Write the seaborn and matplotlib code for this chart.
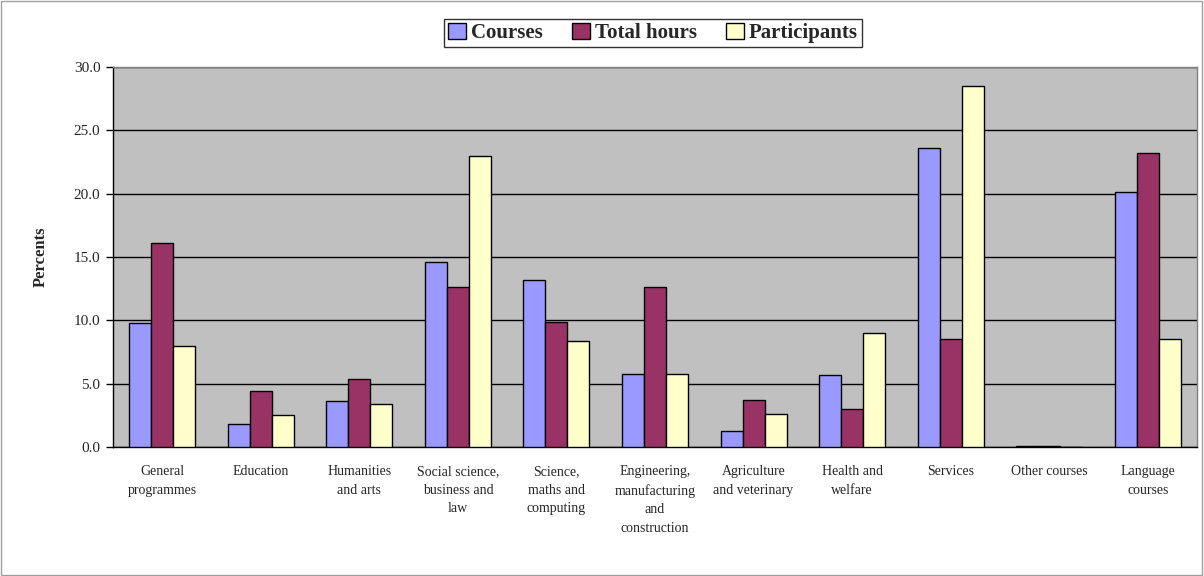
import matplotlib
matplotlib.use("Agg")
import matplotlib.pyplot as plt
import seaborn as sns
import pandas as pd
import numpy as np
from matplotlib.patches import Rectangle

categories = ["General\nprogrammes", "Education", "Humanities\nand arts",
              "Social science,\nbusiness and\nlaw", "Science,\nmaths and\ncomputing",
              "Engineering,\nmanufacturing\nand\nconstruction", "Agriculture\nand veterinary",
              "Health and\nwelfare", "Services", "Other courses", "Language\ncourses"]
courses = [9.8, 1.8, 3.6, 14.6, 13.2, 5.8, 1.3, 5.7, 23.6, 0.1, 20.1]
total_hours = [16.1, 4.4, 5.4, 12.6, 9.9, 12.6, 3.7, 3.0, 8.5, 0.1, 23.2]
participants = [8.0, 2.5, 3.4, 23.0, 8.4, 5.8, 2.6, 9.0, 28.5, 0.0, 8.5]
series = ["Courses", "Total hours", "Participants"]
colors = ["#9999FF", "#993366", "#FFFFCC"]
yticks = [0, 5, 10, 15, 20, 25, 30]

df = pd.DataFrame({
    "cat": categories * 3,
    "series": [series[0]] * 11 + [series[1]] * 11 + [series[2]] * 11,
    "value": courses + total_hours + participants,
})

sns.set_style("white")
plt.rcParams["font.family"] = ["Liberation Serif", "DejaVu Serif"]

fig = plt.figure(figsize=(12.04, 5.76), dpi=100)
ax = fig.add_axes([113 / 1204, 1 - 447 / 576, (1197 - 113) / 1204, (447 - 67) / 576])
ax.set_facecolor("#C0C0C0")

sns.barplot(data=df, x="cat", y="value", hue="series", palette=colors,
            saturation=1, width=0.67, gap=0, edgecolor="black", linewidth=1.0, ax=ax,
            order=categories, hue_order=series, zorder=3)

ax.set_ylim(0, 30)
ax.set_xlim(-0.5, len(categories) - 0.5)
ax.set_yticks(yticks)
ax.set_yticklabels([f"{v:.1f}" for v in yticks], fontsize=11)
ax.yaxis.grid(True, color="black", linewidth=1.0, zorder=1)
ax.set_axisbelow(True)

ax.set_xticks(np.arange(len(categories)))
ax.set_xticklabels(categories, fontsize=10, linespacing=1.55, va="top")
ax.tick_params(axis="x", which="major", length=0, pad=13)
ax.set_xticks(np.arange(-0.5, len(categories) + 0.5, 1), minor=True)
ax.tick_params(axis="x", which="minor", length=5, width=1, color="black", direction="out")
ax.tick_params(axis="y", length=5, width=1, color="black", direction="out", left=True, pad=4)

for s in ["top", "right"]:
    ax.spines[s].set_color("#808080")
    ax.spines[s].set_linewidth(1.0)
for s in ["left", "bottom"]:
    ax.spines[s].set_color("black")
    ax.spines[s].set_linewidth(1.0)

ax.set_xlabel("")
ax.set_ylabel("Percents", fontsize=12, fontweight="bold", labelpad=18)

leg = ax.legend(loc="center", bbox_to_anchor=(653 / 1204, 1 - 33 / 576),
                bbox_transform=fig.transFigure, ncol=3, frameon=True,
                prop={"weight": "bold", "size": 15}, handlelength=0.85,
                handleheight=0.85, handletextpad=0.25, columnspacing=1.4,
                borderpad=0.2, fancybox=False, edgecolor="black")
leg.get_frame().set_linewidth(1.0)

fig.patches.append(Rectangle((0.001, 0.002), 0.997, 0.996, transform=fig.transFigure,
                             fill=False, edgecolor="#A0A0A0", linewidth=1.0))

fig.savefig("out.png", dpi=100)
